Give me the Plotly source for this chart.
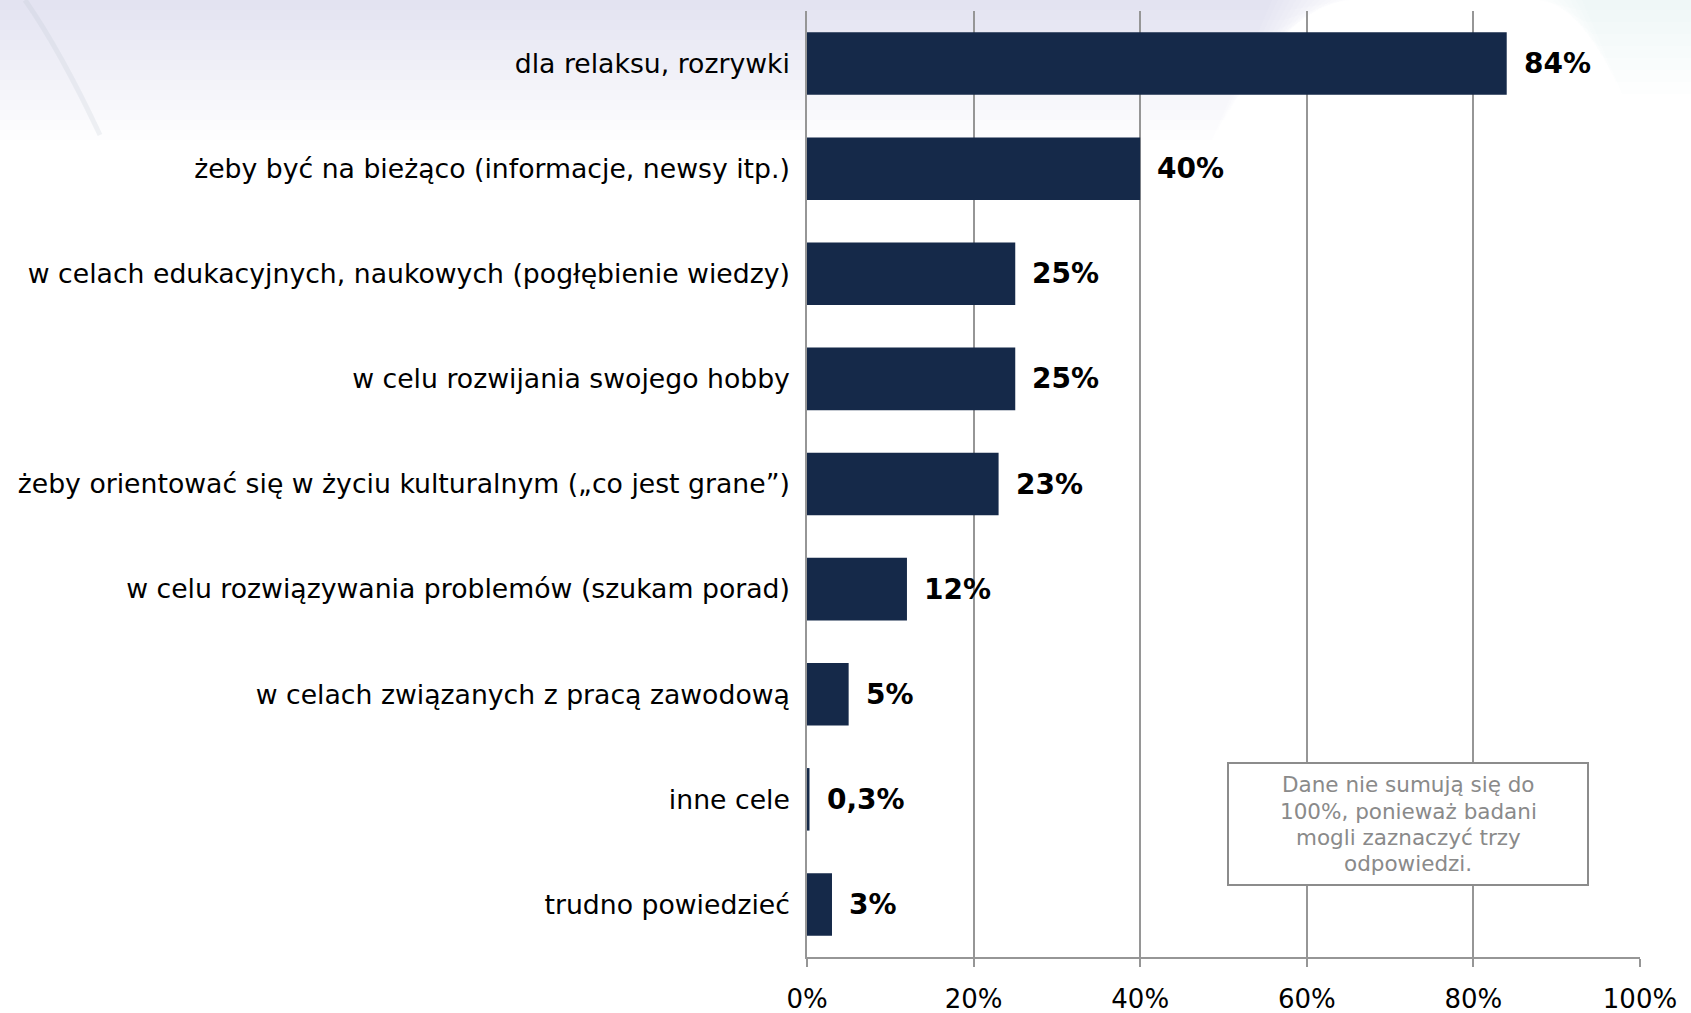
import plotly.graph_objects as go

# Survey: purposes of use (multiple answers allowed, up to three)
categories = [
    "dla relaksu, rozrywki",
    "żeby być na bieżąco (informacje, newsy itp.)",
    "w celach edukacyjnych, naukowych (pogłębienie wiedzy)",
    "w celu rozwijania swojego hobby",
    "żeby orientować się w życiu kulturalnym (\u201eco jest grane\u201d)",
    "w celu rozwiązywania problemów (szukam porad)",
    "w celach związanych z pracą zawodową",
    "inne cele",
    "trudno powiedzieć",
]
values = [84, 40, 25, 25, 23, 12, 5, 0.3, 3]
value_labels = ["84%", "40%", "25%", "25%", "23%", "12%", "5%", "0,3%", "3%"]
tick_values = [0, 20, 40, 60, 80, 100]
tick_labels = ["0%", "20%", "40%", "60%", "80%", "100%"]
note_lines = [
    "Dane nie sumują się do",
    "100%, ponieważ badani",
    "mogli zaznaczyć trzy",
    "odpowiedzi.",
]

BAR = "#152949"
GRID = "#969696"
FONT = "DejaVu Sans"

W, H = 1691, 1013
M_L, M_R, M_T, M_B = 807, 51, 11, 56
PW, PH = W - M_L - M_R, H - M_T - M_B


def px(x):
    return (x - M_L) / PW


def py(y):
    return (H - M_B - y) / PH


fig = go.Figure()
fig.add_trace(go.Bar(
    x=values,
    y=categories,
    orientation="h",
    marker=dict(color=BAR, line=dict(width=0)),
    hoverinfo="skip",
))

# value labels to the right of each bar
annotations = []
for cat, v, lab in zip(categories, values, value_labels):
    annotations.append(dict(
        x=v, y=cat, xref="x", yref="y", text=lab, showarrow=False,
        xanchor="left", yanchor="middle", xshift=15,
        font=dict(family=FONT, size=28, color="#000000", weight="bold"),
    ))

# footnote inside a framed box, one annotation per line
box_x0, box_x1, box_y0, box_y1 = 1228, 1588, 763, 885
line_h = 26
first_line = 785
for i, line in enumerate(note_lines):
    annotations.append(dict(
        x=(px(box_x0) + px(box_x1)) / 2, y=py(first_line + i * line_h),
        xref="paper", yref="paper", text=line, showarrow=False,
        xanchor="center", yanchor="middle", align="center",
        font=dict(family=FONT, size=21.5, color="#8a8a8a"),
    ))

shapes = []
# soft bluish header of the slide background, fading downwards
for k in range(14):
    h = 10 + k * 10
    rt = 1350 - k * 6
    rb = rt - 60
    path = (f"M {px(0)},{py(0)} L {px(rt)},{py(0)} "
            f"L {px(rb)},{py(h)} L {px(0)},{py(h)} Z")
    shapes.append(dict(type="path", xref="paper", yref="paper", path=path,
                       fillcolor="rgba(196,208,228,0.035)", line=dict(width=0),
                       layer="below"))
# right corner tint
for k in range(8):
    h = 10 + k * 12
    path = (f"M {px(1540 + k * 6)},{py(0)} L {px(W)},{py(0)} "
            f"L {px(W)},{py(h)} L {px(1580 + k * 6)},{py(h)} Z")
    shapes.append(dict(type="path", xref="paper", yref="paper", path=path,
                       fillcolor="rgba(196,208,228,0.03)", line=dict(width=0),
                       layer="below"))
# faint curved swoosh at the top-left
shapes.append(dict(
    type="path", xref="paper", yref="paper",
    path=f"M {px(25)},{py(0)} Q {px(60)},{py(50)} {px(100)},{py(135)}",
    line=dict(color="rgba(180,188,200,0.18)", width=5), layer="below",
))
# frame of the footnote
shapes.append(dict(
    type="rect", xref="paper", yref="paper",
    x0=px(box_x0), x1=px(box_x1), y0=py(box_y1), y1=py(box_y0),
    fillcolor="#ffffff", line=dict(color="#8c8c8c", width=2), layer="above",
))

fig.update_layout(
    width=W, height=H,
    margin=dict(l=M_L, r=M_R, t=M_T, b=M_B, pad=0, autoexpand=False),
    paper_bgcolor="#ffffff",
    plot_bgcolor="rgba(0,0,0,0)",
    bargap=0.405,
    showlegend=False,
    annotations=annotations,
    shapes=shapes,
    xaxis=dict(
        range=[0, 100], tickvals=tick_values, ticktext=tick_labels,
        showgrid=True, gridcolor=GRID, gridwidth=1.5,
        zeroline=False, showline=True, linecolor=GRID, linewidth=1.5,
        ticks="outside", ticklen=8, tickcolor=GRID, tickwidth=1.5,
        ticklabelstandoff=10, automargin=False,
        tickfont=dict(family=FONT, size=26, color="#000000"),
        fixedrange=True,
    ),
    yaxis=dict(
        autorange="reversed", showgrid=False, zeroline=False,
        showline=True, linecolor=GRID, linewidth=1.5,
        ticks="", ticklabelstandoff=10, automargin=False,
        tickfont=dict(family=FONT, size=26.7, color="#000000"),
        fixedrange=True,
    ),
)

fig.write_html("out.html")
